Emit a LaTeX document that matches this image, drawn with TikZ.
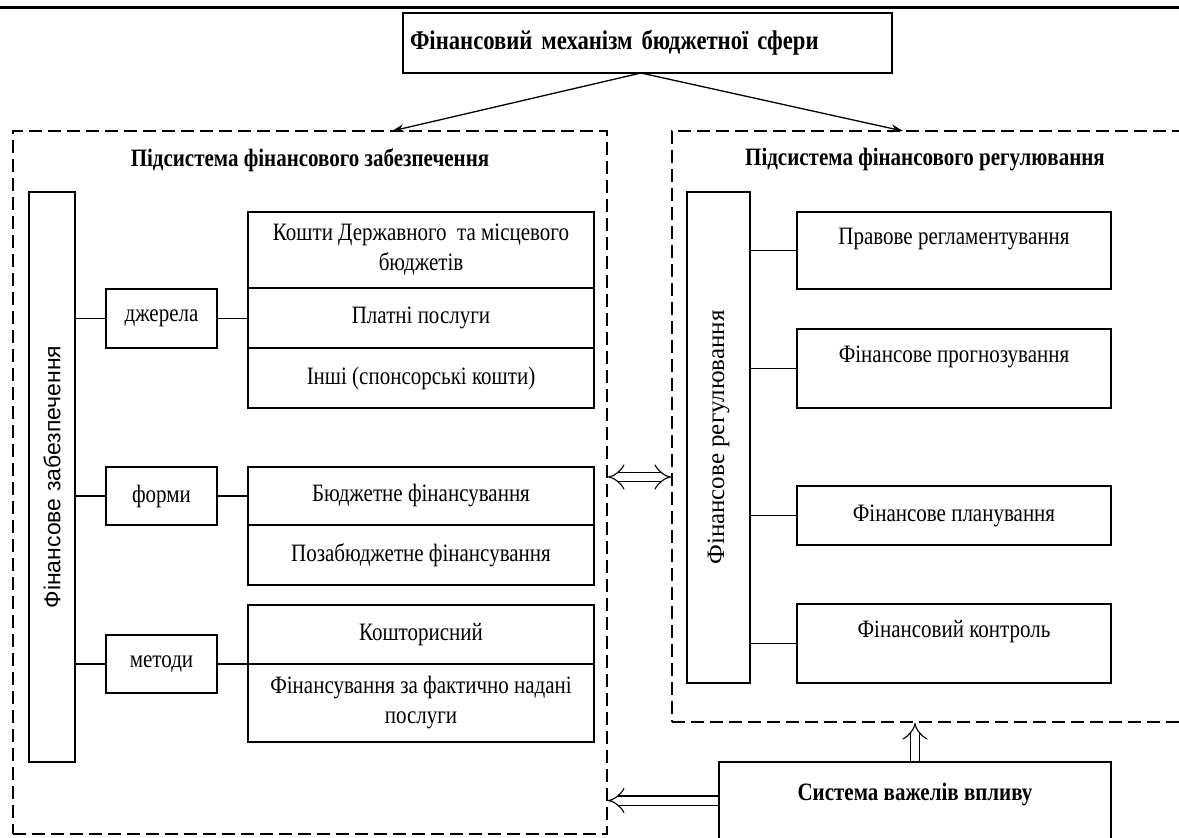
\documentclass[tikz,border=0pt]{standalone}
\usepackage{fontspec}
\setmainfont[FakeStretch=0.84]{Liberation Serif}
\newfontfamily\rotserif{Liberation Serif}
\newfontfamily\rotsans{Liberation Sans}
\usetikzlibrary{arrows.meta}

\begin{document}
\begin{tikzpicture}[x=1pt, y=-1pt,
    box/.style={draw, line width=1.4pt, inner sep=0pt, align=center,
      font=\fontsize{25}{30}\selectfont},
    frame/.style={draw, line width=1.8pt, dash pattern=on 13pt off 6pt, inner sep=0pt},
    head/.style={font=\bfseries\fontsize{25}{30}\selectfont},
    upper/.style={text height=16pt, text depth=28pt},
    wire/.style={line width=1.4pt},
    link/.style={line width=1.3pt, -{Stealth[length=12pt, width=8pt]}},
    hollow/.style={line width=1.1pt, double, double distance=8pt, -{Implies}}]

  \useasboundingbox (0,0) rectangle (1179,838);
  \draw[line width=3pt] (0,7) -- (1179,7);

  \node (TOP) [box, font=\bfseries\fontsize{27}{30}\selectfont, minimum width=489pt,
    minimum height=60pt, text width=475pt, align=left] at (647.5,43) {Фінансовий механізм бюджетної сфери};

  % two subsystems
  \node (PFZ) [frame, minimum width=594pt, minimum height=703pt] at (310,482.5) {};
  \node (PFR) [frame, minimum width=512pt, minimum height=591pt] at (928,426.5) {};
  \node (TPFZ) [head] at (310,160) {Підсистема фінансового забезпечення};
  \node (TPFR) [head] at (925,160) {Підсистема фінансового регулювання};

  \coordinate (APEX) at (641,73);
  \coordinate (INL) at (392,131);
  \coordinate (INR) at (903,131);
  \draw[link] (APEX) -- (INL);
  \draw[link] (APEX) -- (INR);

  % left: financial provision
  \node (FZ) [box, minimum width=46pt, minimum height=570pt,
    label={[rotate=90, font=\rotsans\fontsize{23}{28}\selectfont]center:Фінансове забезпечення}] at (52,477) {};
  \node (DZH) [box, minimum width=111pt, minimum height=59pt] at (161.5,318.5) {джерела};
  \node (FORM) [box, minimum width=111pt, minimum height=58pt] at (161.5,496) {форми};
  \node (MET) [box, minimum width=111pt, minimum height=58pt] at (161.5,664) {методи};

  \node (KDMB) [box, minimum width=346pt, minimum height=76pt] at (421,250) {Кошти Державного \ та місцевого\\бюджетів};
  \node (PP) [box, minimum width=346pt, minimum height=60pt] at (421,318) {Платні послуги};
  \node (INSH) [box, minimum width=346pt, minimum height=60pt] at (421,378) {Інші (спонсорські кошти)};
  \node (BF) [box, minimum width=346pt, minimum height=58pt] at (421,496) {Бюджетне фінансування};
  \node (PBF) [box, minimum width=346pt, minimum height=60pt] at (421,555) {Позабюджетне фінансування};
  \node (KOSH) [box, minimum width=346pt, minimum height=59pt] at (421,634.5) {Кошторисний};
  \node (FFNP) [box, minimum width=346pt, minimum height=78pt] at (421,703) {Фінансування за фактично надані\\послуги};

  \draw[wire] (FZ.east |- DZH) -- (DZH);
  \draw[wire] (DZH) -- (PP.west |- DZH);
  \draw[wire] (FZ.east |- FORM) -- (FORM);
  \draw[wire] (FORM) -- (BF.west |- FORM);
  \draw[wire] (FZ.east |- MET) -- (MET);
  \draw[wire] (MET) -- (KOSH.west |- MET);

  % right: financial regulation
  \node (FR) [box, minimum width=63pt, minimum height=491pt,
    label={[rotate=90, font=\rotserif\fontsize{25}{30}\selectfont]center:Фінансове регулювання}] at (718.5,437.5) {};
  \node (PR) [box, upper, minimum width=314pt, minimum height=77pt] at (954,250.5) {Правове регламентування};
  \node (FP) [box, upper, minimum width=314pt, minimum height=79pt] at (954,368.5) {Фінансове прогнозування};
  \node (FPL) [box, minimum width=314pt, minimum height=59pt] at (954,515.5) {Фінансове планування};
  \node (FK) [box, upper, minimum width=314pt, minimum height=79pt] at (954,643.5) {Фінансовий контроль};
  \foreach \n in {PR, FP, FPL, FK}
    \draw[wire] (FR.east |- \n) -- (\n);

  % levers
  \node (SVV) [box, font=\bfseries\fontsize{25}{30}\selectfont, text height=16pt, text depth=53pt,
    minimum width=392pt, minimum height=113pt] at (915,818.5) {Система важелів впливу};

  \draw[hollow, Implies-Implies] (PFZ.east |- FZ) -- (PFR.west |- FZ);
  \draw[hollow] (SVV.north) -- (SVV.north |- PFR.south);
  \coordinate (SVVL) at ([yshift=18pt]SVV.west);
  \draw[hollow] (SVVL) -- (PFZ.east |- SVVL);
\end{tikzpicture}
\end{document}
